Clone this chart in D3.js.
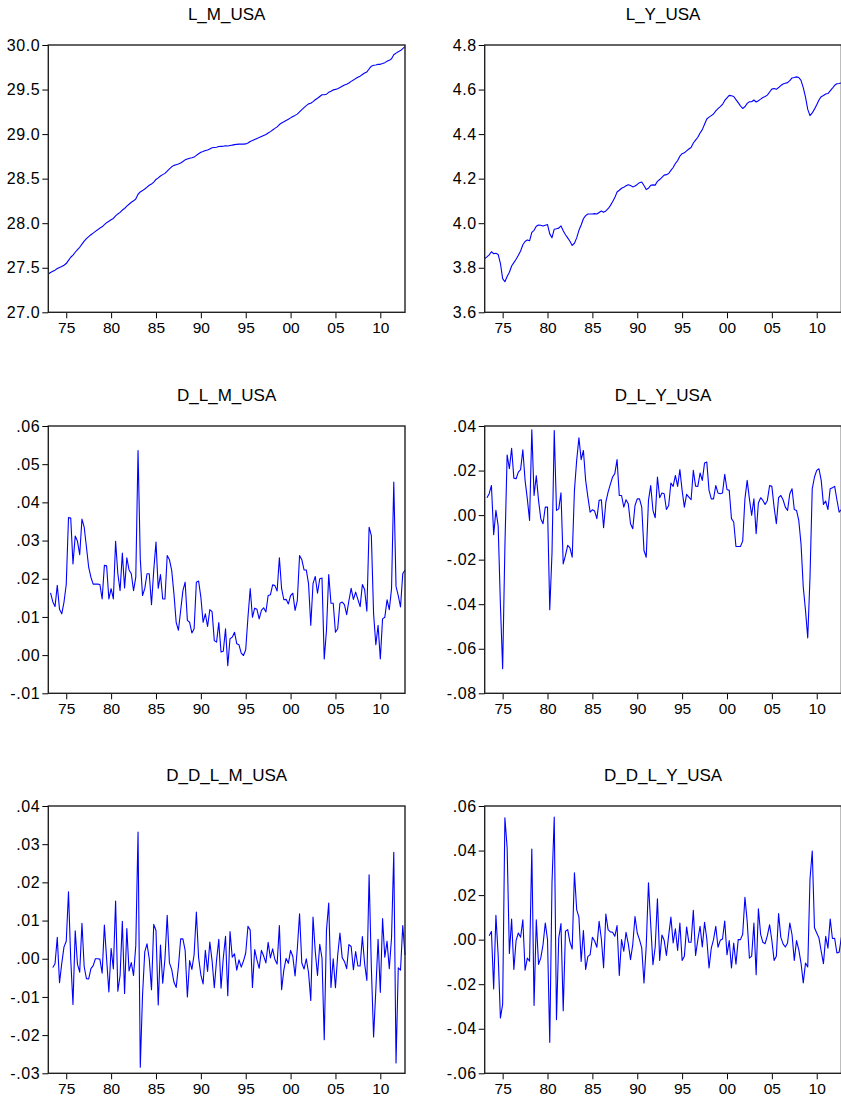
<!DOCTYPE html>
<html>
<head>
<meta charset="utf-8">
<script src="https://cdn.jsdelivr.net/npm/d3@7"></script>
<style>
  body { margin: 0; background: #fff; }
  svg { display: block; }
  text { font-family: "Liberation Sans", Arial, sans-serif; fill: #000; }
</style>
</head>
<body>
<div id="chart"></div>
<script>
// quarterly sample, 1973Q1 .. 2012Q4
var startYear = 1973;
var endYear = 2012.75;

var yearTicks = [1975, 1980, 1985, 1990, 1995, 2000, 2005, 2010];
var yearLabels = ["75", "80", "85", "90", "95", "00", "05", "10"];

// levels start 1973Q1
var lMUsa = [
  27.430, 27.446, 27.460, 27.473, 27.491, 27.503, 27.514, 27.528, 27.547, 27.583,
  27.618, 27.642, 27.674, 27.703, 27.730, 27.765, 27.799, 27.827, 27.850, 27.870,
  27.889, 27.908, 27.926, 27.945, 27.959, 27.983, 28.006, 28.021, 28.038, 28.053,
  28.083, 28.104, 28.121, 28.148, 28.165, 28.191, 28.213, 28.235, 28.251, 28.272,
  28.325, 28.351, 28.366, 28.384, 28.405, 28.426, 28.439, 28.462, 28.491, 28.509,
  28.530, 28.545, 28.559, 28.585, 28.610, 28.633, 28.649, 28.657, 28.664, 28.675,
  28.692, 28.711, 28.721, 28.729, 28.735, 28.742, 28.761, 28.780, 28.796, 28.804,
  28.815, 28.822, 28.834, 28.846, 28.850, 28.853, 28.861, 28.862, 28.863, 28.870,
  28.867, 28.872, 28.876, 28.882, 28.885, 28.888, 28.889, 28.888, 28.890, 28.900,
  28.917, 28.927, 28.939, 28.951, 28.961, 28.973, 28.985, 28.996, 29.012, 29.028,
  29.046, 29.064, 29.081, 29.107, 29.124, 29.138, 29.153, 29.166, 29.182, 29.198,
  29.210, 29.224, 29.250, 29.275, 29.298, 29.320, 29.339, 29.346, 29.365, 29.386,
  29.402, 29.422, 29.442, 29.441, 29.448, 29.469, 29.482, 29.496, 29.502, 29.509,
  29.522, 29.536, 29.550, 29.560, 29.574, 29.592, 29.607, 29.623, 29.638, 29.650,
  29.669, 29.686, 29.698, 29.731, 29.762, 29.773, 29.776, 29.784, 29.783, 29.792,
  29.802, 29.817, 29.828, 29.846, 29.891, 29.909, 29.925, 29.937, 29.959, 29.981
];

var lYUsa = [
  3.841, 3.849, 3.858, 3.872, 3.863, 3.865, 3.860, 3.820, 3.751, 3.737,
  3.761, 3.780, 3.808, 3.823, 3.838, 3.856, 3.875, 3.903, 3.918, 3.925,
  3.921, 3.959, 3.968, 3.986, 3.992, 3.991, 3.987, 3.991, 3.994, 3.952,
  3.935, 3.973, 3.975, 3.978, 3.988, 3.966, 3.948, 3.934, 3.919, 3.900,
  3.910, 3.934, 3.968, 3.992, 4.020, 4.034, 4.041, 4.041, 4.041, 4.043,
  4.041, 4.048, 4.055, 4.049, 4.055, 4.065, 4.079, 4.096, 4.115, 4.140,
  4.148, 4.157, 4.161, 4.168, 4.173, 4.169, 4.163, 4.167, 4.174, 4.182,
  4.185, 4.169, 4.151, 4.157, 4.170, 4.172, 4.171, 4.188, 4.196, 4.206,
  4.216, 4.218, 4.223, 4.237, 4.250, 4.268, 4.281, 4.301, 4.312, 4.316,
  4.325, 4.333, 4.340, 4.360, 4.373, 4.386, 4.405, 4.420, 4.444, 4.468,
  4.476, 4.483, 4.490, 4.504, 4.514, 4.523, 4.533, 4.551, 4.563, 4.574,
  4.572, 4.569, 4.555, 4.541, 4.527, 4.515, 4.523, 4.538, 4.545, 4.545,
  4.553, 4.544, 4.550, 4.557, 4.564, 4.569, 4.575, 4.589, 4.602, 4.605,
  4.601, 4.609, 4.618, 4.625, 4.628, 4.631, 4.640, 4.652, 4.654, 4.657,
  4.654, 4.641, 4.609, 4.566, 4.511, 4.483, 4.495, 4.512, 4.532, 4.553,
  4.568, 4.573, 4.580, 4.582, 4.594, 4.606, 4.619, 4.626, 4.627, 4.630
];

// first differences start 1973Q2
var dLMUsa = [
  .0163, .0140, .0127, .0183, .0120, .0108, .0139, .0185, .0360,
  .0359, .0239, .0312, .0298, .0263, .0356, .0335, .0283, .0230, .0204,
  .0186, .0186, .0186, .0185, .0147, .0235, .0234, .0147, .0174, .0147,
  .0298, .0213, .0169, .0267, .0176, .0255, .0223, .0213, .0169, .0204,
  .0536, .0252, .0156, .0174, .0213, .0213, .0132, .0222, .0296, .0175,
  .0211, .0147, .0147, .0261, .0250, .0222, .0161, .0086, .0065, .0117,
  .0169, .0191, .0091, .0086, .0058, .0069, .0191, .0194, .0152, .0086,
  .0108, .0075, .0119, .0114, .0038, .0034, .0085, .0008, .0010, .0069,
  -.0028, .0043, .0047, .0060, .0030, .0027, .0005, -.0001, .0014, .0099,
  .0174, .0099, .0123, .0120, .0095, .0117, .0124, .0113, .0156, .0158,
  .0184, .0182, .0168, .0255, .0174, .0145, .0146, .0134, .0156, .0162,
  .0117, .0143, .0261, .0250, .0223, .0223, .0187, .0078, .0187, .0206,
  .0162, .0200, .0202, -.0010, .0065, .0211, .0136, .0136, .0060, .0069,
  .0136, .0139, .0132, .0106, .0143, .0175, .0146, .0165, .0146, .0127,
  .0185, .0172, .0115, .0335, .0313, .0108, .0027, .0078, -.0010, .0095,
  .0099, .0145, .0119, .0174, .0453, .0180, .0156, .0126, .0213, .0223
];

var dLYUsa = [
  .0078, .0096, .0133, -.0088, .0021, -.0048, -.0400, -.0690, -.0143,
  .0270, .0208, .0300, .0166, .0163, .0193, .0204, .0293, .0156, .0073,
  -.0024, .0383, .0088, .0177, .0066, -.0016, -.0039, .0036, .0036, -.0425,
  -.0170, .0380, .0021, .0028, .0100, -.0219, -.0181, -.0136, -.0147, -.0189,
  .0111, .0246, .0347, .0249, .0290, .0156, .0081, .0013, .0024, .0018,
  -.0016, .0066, .0069, -.0057, .0058, .0103, .0138, .0171, .0186, .0249,
  .0088, .0088, .0036, .0069, .0051, -.0039, -.0061, .0043, .0073, .0073,
  .0036, -.0159, -.0189, .0066, .0133, .0021, -.0012, .0171, .0078, .0099,
  .0096, .0025, .0043, .0144, .0129, .0178, .0129, .0204, .0111, .0036,
  .0093, .0081, .0069, .0201, .0130, .0129, .0189, .0156, .0234, .0238,
  .0111, .0073, .0073, .0133, .0099, .0096, .0099, .0183, .0115, .0111,
  -.0016, -.0031, -.0141, -.0141, -.0141, -.0117, .0073, .0156, .0073, -.0001,
  .0073, -.0084, .0054, .0078, .0066, .0048, .0066, .0133, .0129, .0036,
  -.0039, .0078, .0088, .0069, .0036, .0021, .0096, .0118, .0025, .0021,
  -.0024, -.0129, -.0323, -.0428, -.0551, -.0280, .0118, .0171, .0201, .0208,
  .0156, .0048, .0063, .0025, .0118, .0123, .0129, .0069, .0013, .0025
];

// second differences start 1973Q3
var ddLMUsa = [
  -.0023, -.0013, .0056, -.0063, -.0012, .0031, .0046, .0175,
  -.0001, -.0120, .0073, -.0014, -.0035, .0093, -.0021, -.0052, -.0053, -.0026,
  -.0018, .0000, .0000, -.0001, -.0038, .0088, -.0001, -.0087, .0027, -.0027,
  .0151, -.0085, -.0044, .0098, -.0091, .0079, -.0032, -.0010, -.0044, .0035,
  .0332, -.0284, -.0096, .0018, .0039, .0000, -.0081, .0090, .0074, -.0121,
  .0036, -.0064, .0000, .0114, -.0011, -.0028, -.0061, -.0075, -.0021, .0052,
  .0052, .0022, -.0100, -.0005, -.0028, .0011, .0122, .0003, -.0042, -.0066,
  .0022, -.0033, .0044, -.0005, -.0076, -.0004, .0051, -.0077, .0002, .0059,
  -.0097, .0071, .0004, .0013, -.0030, -.0003, -.0022, -.0006, .0015, .0085,
  .0075, -.0075, .0024, -.0003, -.0025, .0022, .0007, -.0011, .0043, .0002,
  .0026, -.0002, -.0014, .0087, -.0081, -.0029, .0001, -.0012, .0022, .0006,
  -.0045, .0026, .0118, -.0011, -.0027, .0000, -.0036, -.0109, .0109, .0019,
  -.0044, .0038, .0002, -.0212, .0075, .0146, -.0075, .0000, -.0076, .0009,
  .0067, .0003, -.0007, -.0026, .0037, .0032, -.0029, .0019, -.0019, -.0019,
  .0058, -.0013, -.0057, .0220, -.0022, -.0205, -.0081, .0051, -.0088, .0105,
  .0004, .0046, -.0026, .0055, .0279, -.0273, -.0024, -.0030, .0087, .0010
];

var ddLYUsa = [
  .0018, .0037, -.0221, .0109, -.0069, -.0352, -.0290, .0547,
  .0413, -.0062, .0092, -.0134, -.0003, .0030, .0011, .0089, -.0137, -.0083,
  -.0097, .0407, -.0295, .0089, -.0111, -.0082, -.0023, .0075, .0000, -.0461,
  .0255, .0550, -.0359, .0007, .0072, -.0319, .0038, .0045, -.0011, -.0042,
  .0300, .0135, .0101, -.0098, .0041, -.0134, -.0075, -.0068, .0011, -.0006,
  -.0034, .0082, .0003, -.0126, .0115, .0045, .0035, .0033, .0015, .0063,
  -.0161, .0000, -.0052, .0033, -.0018, -.0090, -.0022, .0104, .0030, .0000,
  -.0037, -.0195, -.0030, .0255, .0067, -.0112, -.0033, .0183, -.0093, .0021,
  -.0003, -.0071, .0018, .0101, -.0015, .0049, -.0049, .0075, -.0093, -.0075,
  .0057, -.0012, -.0012, .0132, -.0071, -.0001, .0060, -.0033, .0078, .0004,
  -.0127, -.0038, .0000, .0060, -.0034, -.0003, .0003, .0084, -.0068, -.0004,
  -.0127, -.0015, -.0110, .0000, .0000, .0024, .0190, .0083, -.0083, -.0074,
  .0074, -.0157, .0138, .0024, -.0012, -.0018, .0018, .0067, -.0004, -.0093,
  -.0075, .0117, .0010, -.0019, -.0033, -.0015, .0075, .0022, -.0093, -.0004,
  -.0045, -.0105, -.0194, -.0105, -.0123, .0271, .0398, .0053, .0030, .0007,
  -.0052, -.0108, .0015, -.0038, .0093, .0005, .0006, -.0060, -.0056, .0012
];

// y axis tick values for each panel
var ticksLM = [27.0, 27.5, 28.0, 28.5, 29.0, 29.5, 30.0];
var ticksLY = [3.6, 3.8, 4.0, 4.2, 4.4, 4.6, 4.8];
var ticksDLM = [-.01, 0, .01, .02, .03, .04, .05, .06];
var ticksDLY = [-.08, -.06, -.04, -.02, 0, .02, .04];
var ticksDDLM = [-.03, -.02, -.01, 0, .01, .02, .03, .04];
var ticksDDLY = [-.06, -.04, -.02, 0, .02, .04, .06];

// EViews style: plain hyphen, no leading zero
function noLead(dec) {
  var f = d3.format("." + dec + "f");
  return function(v) {
    var s = f(Math.abs(v)).replace(/^0\./, ".");
    return (v < -1e-9 ? "-" : "") + s;
  };
}

var panels = [
  {title: "L_M_USA", values: lMUsa, lag: 0, ticks: ticksLM, fmt: d3.format(".1f")},
  {title: "L_Y_USA", values: lYUsa, lag: 0, ticks: ticksLY, fmt: d3.format(".1f")},
  {title: "D_L_M_USA", values: dLMUsa, lag: 1, ticks: ticksDLM, fmt: noLead(2)},
  {title: "D_L_Y_USA", values: dLYUsa, lag: 1, ticks: ticksDLY, fmt: noLead(2)},
  {title: "D_D_L_M_USA", values: ddLMUsa, lag: 2, ticks: ticksDDLM, fmt: noLead(2)},
  {title: "D_D_L_Y_USA", values: ddLYUsa, lag: 2, ticks: ticksDDLY, fmt: noLead(2)}
];

var width = 841, height = 1103;
var colLeft = [48.3, 484.7];
var rowTop = [45, 426, 806];
var plotW = 356.7, plotH = 267.3;
var fontFam = '"Liberation Sans", Arial, sans-serif';

var svg = d3.select("#chart").append("svg")
  .attr("width", width)
  .attr("height", height);

panels.forEach(function(p, n) {
  var left = colLeft[n % 2];
  var top = rowTop[Math.floor(n / 2)];

  var x = d3.scaleLinear().domain([startYear, endYear]).range([left, left + plotW]);
  var y = d3.scaleLinear().domain(d3.extent(p.ticks)).range([top + plotH, top]);

  var g = svg.append("g");

  // y axis
  var ya = g.append("g")
    .attr("transform", "translate(" + left + ",0)")
    .call(d3.axisLeft(y).tickValues(p.ticks).tickFormat(p.fmt).tickSize(6).tickPadding(2));
  ya.select(".domain").remove();
  ya.selectAll("line").attr("stroke", "#000");
  ya.selectAll("text").attr("font-size", "16px").attr("fill", "#000")
    .attr("letter-spacing", "0.6px")
    .style("font-family", fontFam);

  // x axis
  var xa = g.append("g")
    .attr("transform", "translate(0," + (top + plotH) + ")")
    .call(d3.axisBottom(x).tickValues(yearTicks)
      .tickFormat(function(d, i) { return yearLabels[i]; })
      .tickSize(6).tickPadding(4));
  xa.select(".domain").remove();
  xa.selectAll("line").attr("stroke", "#000");
  xa.selectAll("text").attr("font-size", "15.5px").attr("fill", "#000")
    .style("font-family", fontFam);

  // series line
  var line = d3.line()
    .x(function(d, i) { return x(startYear + (p.lag + i) / 4); })
    .y(function(d) { return y(d); });

  g.append("path")
    .datum(p.values)
    .attr("d", line)
    .attr("fill", "none")
    .attr("stroke", "#0000ff")
    .attr("stroke-width", 1.1)
    .attr("stroke-linejoin", "round");

  // frame
  g.append("rect")
    .attr("x", left)
    .attr("y", top)
    .attr("width", plotW)
    .attr("height", plotH)
    .attr("fill", "none")
    .attr("stroke", "#222")
    .attr("stroke-width", 1.4);

  g.append("text")
    .attr("x", left + plotW / 2)
    .attr("y", top - 25)
    .attr("text-anchor", "middle")
    .attr("font-size", "17px")
    .text(p.title);
});
</script>
</body>
</html>
